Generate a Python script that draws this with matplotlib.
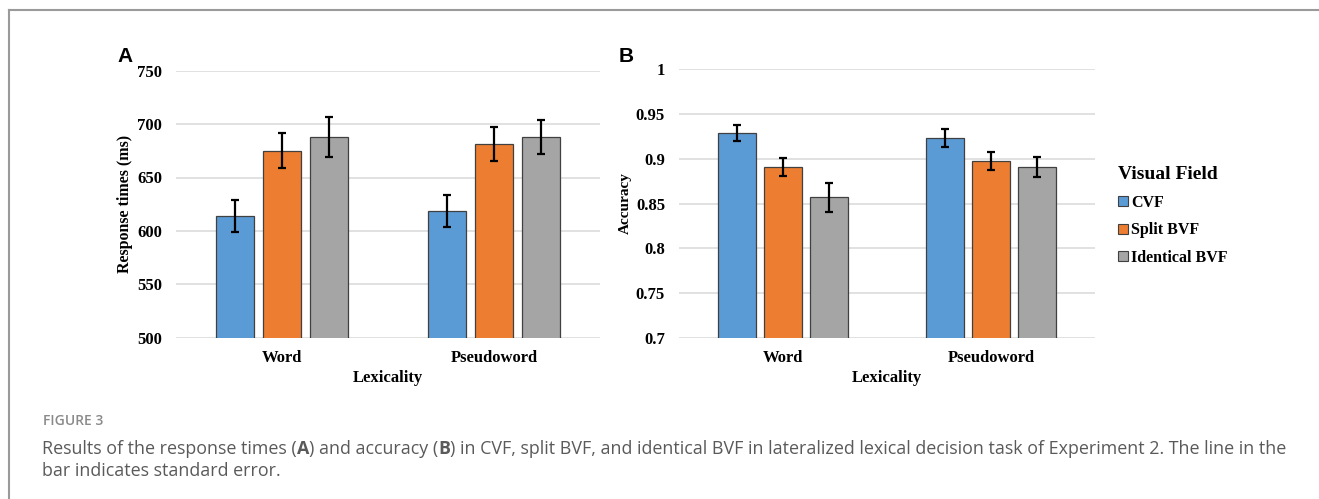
import matplotlib
matplotlib.use('Agg')
import matplotlib.pyplot as plt
import numpy as np
from matplotlib.patches import Patch

categories = ['Word', 'Pseudoword']
series = ['CVF', 'Split BVF', 'Identical BVF']
colors = ['#5B9BD5', '#ED7D31', '#A5A5A5']

rt_mean = {'CVF': [614, 619], 'Split BVF': [675, 681], 'Identical BVF': [688, 688]}
rt_se = {'CVF': [15, 15], 'Split BVF': [16.5, 16], 'Identical BVF': [18.5, 16]}

acc_mean = {'CVF': [0.929, 0.923], 'Split BVF': [0.891, 0.898], 'Identical BVF': [0.857, 0.891]}
acc_se = {'CVF': [0.009, 0.010], 'Split BVF': [0.010, 0.010], 'Identical BVF': [0.016, 0.011]}

rt_ticks = [500, 550, 600, 650, 700, 750]
acc_ticks = [0.7, 0.75, 0.8, 0.85, 0.9, 0.95, 1.0]
acc_ticklabels = ['0.7', '0.75', '0.8', '0.85', '0.9', '0.95', '1']

W, H = 1319, 499
fig = plt.figure(figsize=(W / 100, H / 100), dpi=100)

serif = 'Liberation Serif'


def px(x0, y_top, x1, y_bot):
    return [x0 / W, 1 - y_bot / H, (x1 - x0) / W, (y_bot - y_top) / H]


def draw_panel(ax, means, ses, ticks, ticklabels, ylim, ylabel, ylabel_size):
    x = np.arange(len(categories))
    step = 0.222
    for i, s in enumerate(series):
        ax.bar(x + (i - 1) * step, means[s], width=0.18, color=colors[i],
               edgecolor='#404040', linewidth=0.9, zorder=3, label=s)
        ax.errorbar(x + (i - 1) * step, means[s], yerr=ses[s], fmt='none',
                    ecolor='black', elinewidth=1.6, capsize=3, capthick=1.6, zorder=4)
    ax.set_xlim(-0.5, 1.5)
    ax.set_ylim(*ylim)
    ax.set_yticks(ticks)
    ax.set_yticklabels(ticklabels, fontfamily=serif, fontweight='bold', fontsize=12)
    ax.set_xticks(x)
    ax.set_xticklabels(categories, fontfamily=serif, fontweight='bold', fontsize=12)
    ax.tick_params(axis='y', length=0, pad=10)
    ax.tick_params(axis='x', length=0, pad=9)
    for sp in ax.spines.values():
        sp.set_visible(False)
    ax.grid(axis='y', color='#D9D9D9', linewidth=1.1, zorder=0)
    ax.set_axisbelow(True)
    ax.set_xlabel('Lexicality', fontfamily=serif, fontweight='bold', fontsize=12, labelpad=3)
    ax.set_ylabel(ylabel, fontfamily=serif, fontweight='bold', fontsize=ylabel_size)


axA = fig.add_axes(px(176, 70.7, 600, 337.7))
draw_panel(axA, rt_mean, rt_se, rt_ticks, [str(t) for t in rt_ticks], (500, 750),
           'Response times (ms)', 11.5)
axA.yaxis.set_label_coords((133 - 176) / 424, 0.5)

axB = fig.add_axes(px(679, 69.3, 1095, 337.7))
draw_panel(axB, acc_mean, acc_se, acc_ticks, acc_ticklabels, (0.7, 1.0),
           'Accuracy', 11)
axB.yaxis.set_label_coords((632 - 679) / 416, 0.5)

# panel letters
fig.text(117 / W, 1 - 57 / H, 'A', fontfamily='Liberation Sans', fontweight='bold',
         fontsize=15, va='center', ha='left')
fig.text(619 / W, 1 - 57 / H, 'B', fontfamily='Liberation Sans', fontweight='bold',
         fontsize=15, va='center', ha='left')

# legend
handles = [Patch(facecolor=c, edgecolor='#404040', linewidth=0.8) for c in colors]
leg = fig.legend(handles, series, loc='upper left', bbox_to_anchor=(1112 / W, 1 - 160 / H),
                 frameon=False, title='Visual Field',
                 prop={'family': serif, 'weight': 'bold', 'size': 11.5},
                 title_fontproperties={'family': serif, 'weight': 'bold', 'size': 14},
                 handlelength=0.6, handleheight=0.6, handletextpad=0.2,
                 labelspacing=0.72, borderaxespad=0)
leg._legend_box.align = 'left'

# frame around the figure block
fig.add_artist(plt.Line2D([9 / W, 1], [1 - 9.5 / H, 1 - 9.5 / H], color='#9A9A9A', linewidth=1.5))
fig.add_artist(plt.Line2D([9 / W, 9 / W], [0, 1 - 9.5 / H], color='#9A9A9A', linewidth=1.5))

# caption
fig.text(43 / W, 1 - 421 / H, 'FIGURE 3', fontfamily='Open Sans', fontweight='semibold',
         fontsize=10, color='#8A8A8A', va='center', ha='left')

renderer = fig.canvas.get_renderer()


def rich_line(x, y, pieces):
    for s, w in pieces:
        t = fig.text(x / W, 1 - y / H, s, fontfamily='Open Sans', fontweight=w,
                     fontsize=12.85, color='#5A5A5A', va='center', ha='left')
        x += t.get_window_extent(renderer).width


rich_line(42, 449, [('Results of the response times (', 'normal'), ('A', 'bold'),
                    (') and accuracy (', 'normal'), ('B', 'bold'),
                    (') in CVF, split BVF, and identical BVF in lateralized lexical decision '
                     'task of Experiment 2. The line in the', 'normal')])
rich_line(42, 471, [('bar indicates standard error.', 'normal')])

fig.savefig('out.png', dpi=100)
